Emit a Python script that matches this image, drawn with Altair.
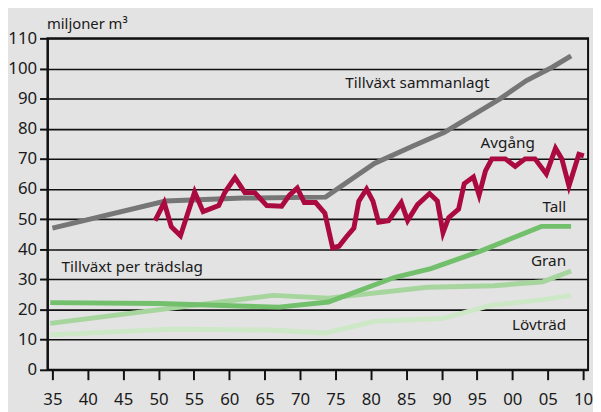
import altair as alt
import pandas as pd

# ---- data (years, million m3) ----
total_years = [1935, 1951, 1962, 1973.6, 1980.5, 1986.2, 1990.4, 1998.3, 2002, 2005.7, 2008.3]
total_vals = [47, 56, 57, 57.3, 68.5, 74.5, 78.8, 90, 96, 100.5, 104.2]

avg_years = [1949.5, 1950.8, 1951.8, 1953.1, 1955.1, 1956.3, 1958.5, 1959.4, 1960.8,
             1962.2, 1963.6, 1965.3, 1967.4, 1968.5, 1969.6, 1970.6, 1972.2, 1973.5,
             1974.6, 1975.5, 1976.5, 1977.6, 1978.3, 1979.4, 1980.3, 1981.1, 1982.5,
             1984.3, 1985.2, 1986.6, 1988.3, 1989.4, 1990.2, 1991.0, 1992.4, 1993.2,
             1994.5, 1995.3, 1996.2, 1997.1, 1999.0, 2000.4, 2001.8, 2003.2, 2004.8,
             2006.1, 2007.0, 2008.0, 2009.4, 2010.1]
avg_vals = [49.5, 55.5, 47.5, 44.5, 59, 52.5, 54.5, 59, 63.8,
            58.8, 58.8, 54.5, 54.3, 58, 60.3, 55.5, 55.5, 52,
            40.5, 41, 44, 47, 56, 60, 56, 49, 49.5,
            55.5, 49.5, 54.8, 58.5, 56, 45.5, 50.5, 53.3, 61.8,
            64, 58, 66, 70, 70, 67.5, 70, 70, 65,
            73.5, 70, 61, 71.5, 71]

tall_years = [1934.7, 1950, 1967, 1974, 1983.4, 1988.5, 1995.5, 2004.1, 2008.3]
tall_vals = [22.3, 22, 20.8, 22.5, 30.7, 33.6, 39.4, 47.6, 47.6]

gran_years = [1934.7, 1966.2, 1974, 1988, 1997.3, 2004.3, 2008.3]
gran_vals = [15.4, 24.7, 23.8, 27.4, 27.9, 29.2, 32.8]

lov_years = [1934.7, 1951.8, 1965.7, 1973.5, 1980.6, 1990.1, 1996.9, 2004.3, 2008.3]
lov_vals = [11.6, 13.5, 13.2, 12.2, 16.1, 17, 21.4, 23.3, 24.7]

series_names = ["Lövträd", "Gran", "Tall", "Tillväxt sammanlagt", "Avgång"]
series_colors = ["#cde8c6", "#a6d59d", "#72bf6c", "#767676", "#ab0a40"]

x_ticks = list(range(1935, 2011, 5))
y_ticks = list(range(0, 111, 10))

label_texts = ["Tillväxt sammanlagt", "Avgång", "Tall", "Gran", "Lövträd", "Tillväxt per trädslag"]
label_x = [1976.4, 1995.5, 2007.6, 2007.6, 2007.6, 1936.3]
label_y = [95, 75.4, 54, 36, 14.8, 34]
label_align = ["left", "left", "right", "right", "right", "left"]

# ---- build tables ----
rows = []
for name, ys, vs in [("Lövträd", lov_years, lov_vals), ("Gran", gran_years, gran_vals),
                     ("Tall", tall_years, tall_vals),
                     ("Tillväxt sammanlagt", total_years, total_vals),
                     ("Avgång", avg_years, avg_vals)]:
    for i, (y, v) in enumerate(zip(ys, vs)):
        rows.append({"series": name, "year": y, "value": v, "idx": i})
df = pd.DataFrame(rows)

labels = pd.DataFrame({"text": label_texts, "x": label_x, "y": label_y, "al": label_align})

xscale = alt.Scale(domain=[1934.3, 2010.7], nice=False, zero=False)
yscale = alt.Scale(domain=[0, 110], nice=False)
cscale = alt.Scale(domain=series_names, range=series_colors)

FONT = "Noto Sans"

layers = []
for name in series_names:
    layer = alt.Chart(df[df["series"] == name]).mark_line(
        strokeWidth=5, strokeCap="butt", strokeJoin="miter"
    ).encode(
        x=alt.X("year:Q", scale=xscale,
                axis=alt.Axis(values=x_ticks, tickCount=len(x_ticks), title=None, grid=False,
                              labelExpr="substring(toString(datum.value), 2, 4)",
                              labelFontSize=17, labelFont=FONT, labelColor="#1a1a1a",
                              labelPadding=12, tickSize=10, tickWidth=2, tickColor="#111",
                              domainColor="#111", domainWidth=2, labelFlush=False,
                              labelOverlap=False, labelBound=False)),
        y=alt.Y("value:Q", scale=yscale,
                axis=alt.Axis(values=y_ticks, tickCount=len(y_ticks), title="miljoner m³",
                              titleAngle=0,
                              titleAlign="left", titleBaseline="alphabetic",
                              titleX=-1, titleY=-10, titleFontSize=15, titleFont=FONT,
                              titleFontWeight="normal", titleColor="#1a1a1a",
                              grid=True, gridColor="#111", gridWidth=1.6,
                              labelFontSize=17, labelFont=FONT, labelColor="#1a1a1a",
                              labelPadding=3, tickSize=8, tickWidth=2, tickColor="#111",
                              domainColor="#111", domainWidth=2,
                              labelOverlap=False, labelBound=False, labelFlush=False)),
        color=alt.Color("series:N", scale=cscale, legend=None),
        order="idx:Q",
    )
    layers.append(layer)

text_layers = []
for al in ["left", "right"]:
    t = alt.Chart(labels[labels["al"] == al]).mark_text(
        align=al, baseline="middle", fontSize=15.5, font=FONT, color="#1a1a1a"
    ).encode(
        x=alt.X("x:Q", scale=xscale),
        y=alt.Y("y:Q", scale=yscale),
        text="text:N",
    )
    text_layers.append(t)

chart = alt.layer(*layers, *text_layers).properties(
    width=548, height=336,
    autosize=alt.AutoSizeParams(type="none"),
    padding={"left": 40, "top": 28, "right": 5, "bottom": 40},
    background="#e3e3e3",
).configure_view(
    stroke="#111", strokeWidth=2, fill="#e3e3e3"
)

chart.save("out.html", embed_options={"renderer": "svg", "actions": False})
